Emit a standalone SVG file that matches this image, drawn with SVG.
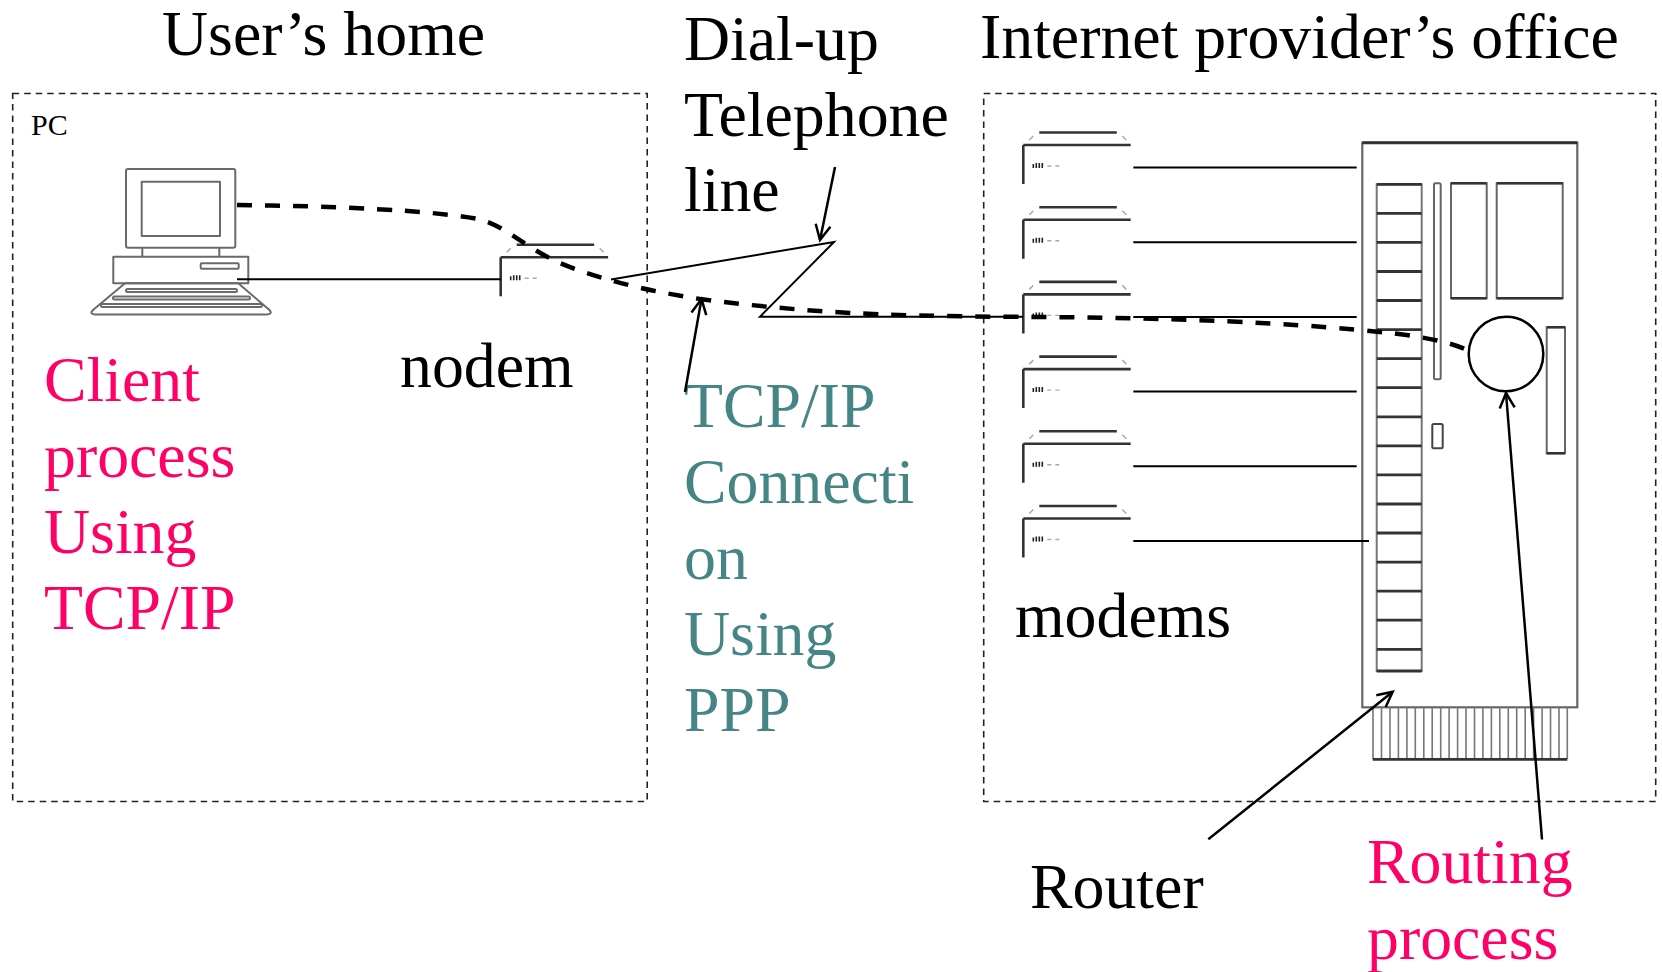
<svg xmlns="http://www.w3.org/2000/svg" width="1662" height="972" viewBox="0 0 1662 972">
  <style>
    .t { font-family: "Liberation Serif", "Times New Roman", serif; font-size: 63.8px; fill: #000; }
    .pink { fill: #ff0066; }
    .teal { fill: #468585; }
    .small { font-size: 30px; }
    .zone { fill: none; stroke: #222; stroke-width: 1.6; stroke-dasharray: 6.5 5; }
    .icon { fill: none; stroke: #6a6a6a; stroke-width: 2; stroke-linejoin: round; }
    .dark { fill: none; stroke: #333; stroke-width: 2.6; }
    .wire { fill: none; stroke: #000; stroke-width: 2; }
    .arrow { fill: none; stroke: #000; stroke-width: 2.5; marker-end: url(#head); }
    .session { fill: none; stroke: #000; stroke-width: 4.5; stroke-dasharray: 15 13; }
  </style>
  <defs>
    <marker id="head" markerUnits="userSpaceOnUse" markerWidth="20" markerHeight="20" viewBox="-16 -10 20 20" refX="0" refY="0" orient="auto" overflow="visible">
      <path d="M-15,-7.5 L0,0 L-15,7.5" fill="none" stroke="#000" stroke-width="2.5"/>
    </marker>
    <!-- modem icon, origin at the corner of the front panel -->
    <g id="modem-icon">
      <path class="dark" d="M0,0 H107.4 M0,0 V39 M16,-12.5 H93.5"/>
      <path d="M6,-5 L10,-9 M99,-9 L103,-5" stroke="#aaa" stroke-width="1.5" fill="none"/>
      <path d="M10,19 V23 M13,18 V23 M16,18 V23 M19,18 V23" stroke="#222" stroke-width="1.6"/>
      <path d="M24,21 H28 M32,21 H36" stroke="#aaa" stroke-width="1.4"/>
    </g>
  </defs>

  <rect width="1662" height="972" fill="#fff"/>

  <!-- dashed site boundaries -->
  <g id="home-zone">
    <rect class="zone" x="12.7" y="93.5" width="634.5" height="708"/>
    <text class="t small" x="31" y="135">PC</text>
  </g>
  <g id="isp-zone">
    <rect class="zone" x="983.7" y="93.5" width="672" height="708"/>
  </g>

  <!-- titles -->
  <g id="titles">
    <text class="t" x="162" y="55">User’s home</text>
    <text class="t" x="684" y="60">Dial-up</text>
    <text class="t" x="684" y="136">Telephone</text>
    <text class="t" x="684" y="211">line</text>
    <text class="t" x="980" y="58">Internet provider’s office</text>
  </g>

  <!-- personal computer -->
  <g id="pc">
    <rect class="icon" x="126" y="169" width="109.3" height="78.7" rx="2"/>
    <rect class="icon" x="141.7" y="181.7" width="78.3" height="54.3"/>
    <path class="icon" d="M142.3,247.7 V256.7 M219.3,247.7 V256.7"/>
    <rect class="icon" x="113.3" y="256.7" width="135" height="26.6"/>
    <rect class="icon" x="200.7" y="263.3" width="38" height="5.4" rx="1"/>
    <path class="icon" d="M125,283.3 H238.3 L269.5,310 Q273,314 267,314.5 H95 Q89,314 93,310 Z"/>
    <rect class="icon" x="126" y="289" width="111" height="3" rx="1.5" stroke-width="1.4"/>
    <rect class="icon" x="113" y="296.5" width="137" height="3" rx="1.5" stroke-width="1.4"/>
    <rect class="icon" x="101" y="304" width="161" height="3" rx="1.5" stroke-width="1.4"/>
  </g>

  <!-- home modem -->
  <g id="modem-home">
    <use href="#modem-icon" x="500.7" y="257.3"/>
    <text class="t" x="400" y="387">nodem</text>
  </g>

  <!-- provider modems -->
  <g id="modems">
    <use href="#modem-icon" x="1023.3" y="145"/>
    <use href="#modem-icon" x="1023.3" y="219.7"/>
    <use href="#modem-icon" x="1023.3" y="294.4"/>
    <use href="#modem-icon" x="1023.3" y="369.1"/>
    <use href="#modem-icon" x="1023.3" y="443.8"/>
    <use href="#modem-icon" x="1023.3" y="518.5"/>
    <text class="t" x="1015" y="637">modems</text>
  </g>

  <!-- router rack -->
  <g id="router">
    <rect x="1362.3" y="142.7" width="215" height="564.6" fill="none" stroke="#666" stroke-width="2.2"/>
    <path d="M1362.3,142.7 H1577.3" stroke="#333" stroke-width="3"/>
    <rect x="1376.7" y="184.3" width="45" height="486.7" fill="none" stroke="#777" stroke-width="2"/>
    <path stroke="#333" stroke-width="2.8" d="M1376.7,184.3 H1421.7 M1376.7,213.4 H1421.7 M1376.7,242.4 H1421.7 M1376.7,271.5 H1421.7 M1376.7,300.5 H1421.7 M1376.7,329.6 H1421.7 M1376.7,358.7 H1421.7 M1376.7,387.7 H1421.7 M1376.7,416.8 H1421.7 M1376.7,445.8 H1421.7 M1376.7,474.9 H1421.7 M1376.7,504 H1421.7 M1376.7,533 H1421.7 M1376.7,562.1 H1421.7 M1376.7,591.1 H1421.7 M1376.7,620.2 H1421.7 M1376.7,649.3 H1421.7 M1376.7,671 H1421.7"/>
    <rect x="1434" y="183.3" width="6.7" height="196" rx="1.5" fill="none" stroke="#666" stroke-width="2"/>
    <rect x="1451" y="183.3" width="35.7" height="115" fill="none" stroke="#666" stroke-width="2"/>
    <path d="M1451,183.3 H1486.7 M1451,298.3 H1486.7" stroke="#333" stroke-width="2.6"/>
    <rect x="1496.7" y="183.3" width="66" height="115" fill="none" stroke="#666" stroke-width="2"/>
    <path d="M1496.7,183.3 H1562.7 M1496.7,298.3 H1562.7" stroke="#333" stroke-width="2.6"/>
    <rect x="1546.7" y="327.3" width="18.3" height="126" fill="none" stroke="#666" stroke-width="2"/>
    <path d="M1546.7,327.3 H1565 M1546.7,453.3 H1565" stroke="#333" stroke-width="2.6"/>
    <rect x="1432.3" y="424" width="10.4" height="24.3" rx="1.5" fill="none" stroke="#444" stroke-width="2"/>
    <!-- ventilation fringe below the cabinet -->
    <path stroke="#777" stroke-width="1.6" d="M1373,707 V759 M1381.5,707 V759 M1390,707 V759 M1398.4,707 V759 M1406.9,707 V759 M1415.3,707 V759 M1423.8,707 V759 M1432.2,707 V759 M1440.7,707 V759 M1449.1,707 V759 M1457.6,707 V759 M1466,707 V759 M1474.5,707 V759 M1482.9,707 V759 M1491.4,707 V759 M1499.8,707 V759 M1508.3,707 V759 M1516.7,707 V759 M1525.2,707 V759 M1533.6,707 V759 M1542.1,707 V759 M1550.5,707 V759 M1559,707 V759 M1567.3,707 V759"/>
    <path d="M1372.7,759.3 H1567.3" stroke="#333" stroke-width="2.8"/>
    <text class="t" x="1030" y="908">Router</text>
  </g>

  <!-- routing process inside the router -->
  <g id="routing-process">
    <circle cx="1506" cy="354" r="37.3" fill="#fff" stroke="#000" stroke-width="2.5"/>
    <text class="t pink" x="1367" y="883">Routing</text>
    <text class="t pink" x="1367" y="959">process</text>
  </g>

  <!-- client process -->
  <g id="client-process">
    <text class="t pink" x="44" y="401">Client</text>
    <text class="t pink" x="44" y="477">process</text>
    <text class="t pink" x="44" y="553">Using</text>
    <text class="t pink" x="44" y="629">TCP/IP</text>
  </g>

  <!-- connection label -->
  <g id="connection-label">
    <text class="t teal" x="684" y="427">TCP/IP</text>
    <text class="t teal" x="684" y="503">Connecti</text>
    <text class="t teal" x="684" y="579">on</text>
    <text class="t teal" x="684" y="655">Using</text>
    <text class="t teal" x="684" y="731">PPP</text>
  </g>

  <!-- connectors -->
  <g id="connectors">
    <path class="wire" d="M237,279.3 H500.7"/>
    <path class="wire" d="M611,279.5 L834,242 L760,316.7 H1023.3"/>
    <path class="wire" d="M1133.3,167.5 H1356.7 M1133.3,242.2 H1356.7 M1133.3,316.9 H1356.7 M1133.3,391.6 H1356.7 M1133.3,466.3 H1356.7 M1133.3,541 H1369"/>
    <path class="session" d="M237,205 C330,206 430,210 478,219 C505,225 525,248 560,263 C590,276 640,290 700,299 C800,312 880,316 1000,316.7 C1150,317.5 1250,321 1330,327.5 C1400,333 1440,338 1466,349.5"/>
    <path class="arrow" d="M835,167 L820,240"/>
    <path class="arrow" d="M685,392 L701.5,299"/>
    <path class="arrow" d="M1208.3,839.3 L1392.7,691.7"/>
    <path class="arrow" d="M1542,839.5 L1506,393"/>
  </g>
</svg>
